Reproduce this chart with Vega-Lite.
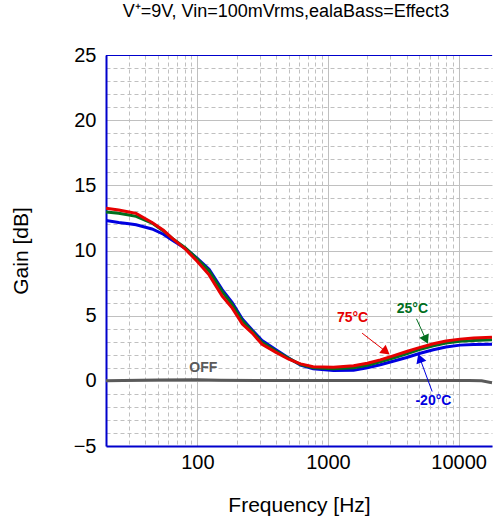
{
  "$schema": "https://vega.github.io/schema/vega-lite/v6.json",
  "autosize": {"type": "none"},
  "padding": {"left": 106, "top": 55, "right": 1, "bottom": 71},
  "width": 386,
  "height": 391,
  "background": "white",
  "config": {
    "font": "Liberation Sans",
    "view": {"stroke": null}
  },
  "title": {
    "text": "V⁺=9V, Vin=100mVrms,ealaBass=Effect3",
    "fontSize": 18,
    "fontWeight": "normal",
    "color": "#000000",
    "font": "Liberation Sans",
    "anchor": "middle",
    "dx": -13,
    "offset": 24
  },
  "datasets": {
    "curves": [
      {"f": 20, "gain": 0.0, "series": "OFF"},
      {"f": 50, "gain": 0.06, "series": "OFF"},
      {"f": 100, "gain": 0.08, "series": "OFF"},
      {"f": 150, "gain": 0.04, "series": "OFF"},
      {"f": 1000, "gain": 0.02, "series": "OFF"},
      {"f": 5000, "gain": 0.02, "series": "OFF"},
      {"f": 12000, "gain": 0.02, "series": "OFF"},
      {"f": 15000, "gain": 0.0, "series": "OFF"},
      {"f": 18000, "gain": -0.15, "series": "OFF"},

      {"f": 20, "gain": 12.3, "series": "-20"},
      {"f": 25, "gain": 12.15, "series": "-20"},
      {"f": 30, "gain": 12.05, "series": "-20"},
      {"f": 34, "gain": 11.97, "series": "-20"},
      {"f": 45, "gain": 11.65, "series": "-20"},
      {"f": 55, "gain": 11.25, "series": "-20"},
      {"f": 64, "gain": 10.8, "series": "-20"},
      {"f": 81, "gain": 10.15, "series": "-20"},
      {"f": 100, "gain": 9.4, "series": "-20"},
      {"f": 123, "gain": 8.57, "series": "-20"},
      {"f": 155, "gain": 7.0, "series": "-20"},
      {"f": 185, "gain": 6.0, "series": "-20"},
      {"f": 221, "gain": 4.75, "series": "-20"},
      {"f": 263, "gain": 3.9, "series": "-20"},
      {"f": 313, "gain": 3.1, "series": "-20"},
      {"f": 397, "gain": 2.4, "series": "-20"},
      {"f": 500, "gain": 1.75, "series": "-20"},
      {"f": 617, "gain": 1.2, "series": "-20"},
      {"f": 770, "gain": 0.92, "series": "-20"},
      {"f": 1100, "gain": 0.79, "series": "-20"},
      {"f": 1570, "gain": 0.82, "series": "-20"},
      {"f": 2000, "gain": 1.0, "series": "-20"},
      {"f": 2512, "gain": 1.23, "series": "-20"},
      {"f": 3150, "gain": 1.5, "series": "-20"},
      {"f": 4000, "gain": 1.79, "series": "-20"},
      {"f": 5000, "gain": 2.1, "series": "-20"},
      {"f": 6400, "gain": 2.38, "series": "-20"},
      {"f": 8000, "gain": 2.6, "series": "-20"},
      {"f": 10240, "gain": 2.74, "series": "-20"},
      {"f": 13000, "gain": 2.78, "series": "-20"},
      {"f": 18000, "gain": 2.8, "series": "-20"},

      {"f": 20, "gain": 12.95, "series": "25"},
      {"f": 25, "gain": 12.85, "series": "25"},
      {"f": 30, "gain": 12.72, "series": "25"},
      {"f": 34, "gain": 12.62, "series": "25"},
      {"f": 45, "gain": 12.1, "series": "25"},
      {"f": 55, "gain": 11.5, "series": "25"},
      {"f": 64, "gain": 10.95, "series": "25"},
      {"f": 81, "gain": 10.2, "series": "25"},
      {"f": 100, "gain": 9.35, "series": "25"},
      {"f": 123, "gain": 8.45, "series": "25"},
      {"f": 155, "gain": 6.85, "series": "25"},
      {"f": 185, "gain": 5.85, "series": "25"},
      {"f": 221, "gain": 4.6, "series": "25"},
      {"f": 263, "gain": 3.8, "series": "25"},
      {"f": 313, "gain": 2.95, "series": "25"},
      {"f": 397, "gain": 2.3, "series": "25"},
      {"f": 500, "gain": 1.72, "series": "25"},
      {"f": 617, "gain": 1.25, "series": "25"},
      {"f": 770, "gain": 1.0, "series": "25"},
      {"f": 1100, "gain": 0.92, "series": "25"},
      {"f": 1570, "gain": 1.0, "series": "25"},
      {"f": 2000, "gain": 1.2, "series": "25"},
      {"f": 2512, "gain": 1.46, "series": "25"},
      {"f": 3150, "gain": 1.75, "series": "25"},
      {"f": 4000, "gain": 2.07, "series": "25"},
      {"f": 5000, "gain": 2.4, "series": "25"},
      {"f": 6400, "gain": 2.69, "series": "25"},
      {"f": 8000, "gain": 2.9, "series": "25"},
      {"f": 10240, "gain": 3.04, "series": "25"},
      {"f": 13000, "gain": 3.1, "series": "25"},
      {"f": 18000, "gain": 3.15, "series": "25"},

      {"f": 20, "gain": 13.25, "series": "75"},
      {"f": 25, "gain": 13.1, "series": "75"},
      {"f": 30, "gain": 12.95, "series": "75"},
      {"f": 34, "gain": 12.85, "series": "75"},
      {"f": 45, "gain": 12.15, "series": "75"},
      {"f": 55, "gain": 11.55, "series": "75"},
      {"f": 64, "gain": 10.95, "series": "75"},
      {"f": 81, "gain": 10.1, "series": "75"},
      {"f": 100, "gain": 9.16, "series": "75"},
      {"f": 123, "gain": 8.13, "series": "75"},
      {"f": 155, "gain": 6.5, "series": "75"},
      {"f": 185, "gain": 5.58, "series": "75"},
      {"f": 221, "gain": 4.35, "series": "75"},
      {"f": 263, "gain": 3.66, "series": "75"},
      {"f": 313, "gain": 2.8, "series": "75"},
      {"f": 397, "gain": 2.2, "series": "75"},
      {"f": 500, "gain": 1.66, "series": "75"},
      {"f": 617, "gain": 1.3, "series": "75"},
      {"f": 770, "gain": 1.08, "series": "75"},
      {"f": 1100, "gain": 1.05, "series": "75"},
      {"f": 1570, "gain": 1.15, "series": "75"},
      {"f": 2000, "gain": 1.35, "series": "75"},
      {"f": 2512, "gain": 1.61, "series": "75"},
      {"f": 3150, "gain": 1.92, "series": "75"},
      {"f": 4000, "gain": 2.25, "series": "75"},
      {"f": 5000, "gain": 2.55, "series": "75"},
      {"f": 6400, "gain": 2.84, "series": "75"},
      {"f": 8000, "gain": 3.05, "series": "75"},
      {"f": 10240, "gain": 3.2, "series": "75"},
      {"f": 13000, "gain": 3.28, "series": "75"},
      {"f": 18000, "gain": 3.35, "series": "75"}
    ],
    "labels": [
      {"f": 111, "gain": 0.96, "text": "OFF", "series": "OFF"},
      {"f": 1541, "gain": 4.8, "text": "75°C", "series": "75"},
      {"f": 4426, "gain": 5.53, "text": "25°C", "series": "25"},
      {"f": 6412, "gain": -1.53, "text": "-20°C", "series": "-20"}
    ],
    "arrows": [
      {"f": 1824, "gain": 3.66, "f2": 2723, "gain2": 2.31, "series": "75"},
      {"f": 4753, "gain": 4.76, "f2": 5560, "gain2": 3.26, "series": "25"},
      {"f": 6267, "gain": -0.82, "f2": 5093, "gain2": 1.63, "series": "-20"}
    ],
    "heads": [
      {"f": 2723, "gain": 2.31, "series": "75"},
      {"f": 5560, "gain": 3.26, "series": "25"},
      {"f": 5093, "gain": 1.63, "series": "-20"}
    ],
    "frame": [
      {"f": 20, "f2": 18000, "gain": 25}
    ]
  },
  "encoding": {
    "x": {
      "field": "f",
      "type": "quantitative",
      "scale": {"type": "log", "domain": [20, 18000], "nice": false},
      "axis": {
        "title": "Frequency [Hz]",
        "titleFontSize": 21,
        "titleFontWeight": "normal",
        "titleColor": "#000000",
        "titlePadding": 22,
        "values": [20, 30, 40, 50, 60, 70, 80, 90, 100, 200, 300, 400, 500, 600, 700, 800, 900, 1000, 2000, 3000, 4000, 5000, 6000, 7000, 8000, 9000, 10000],
        "format": "d",
        "labelExpr": "(datum.value == 100 || datum.value == 1000 || datum.value == 10000) ? datum.label : ''",
        "labelOverlap": false,
        "labelFontSize": 20,
        "labelColor": "#000000",
        "labelPadding": 6,
        "labelFlush": false,
        "ticks": false,
        "domainColor": "#0000cc",
        "domainWidth": 2,
        "grid": true,
        "gridColor": "#c0c0c0",
        "gridDash": {"condition": {"test": "datum.value == 100 || datum.value == 1000 || datum.value == 10000", "value": []}, "value": [4, 3]}
      }
    },
    "y": {
      "field": "gain",
      "type": "quantitative",
      "scale": {"domain": [-5, 25], "nice": false},
      "axis": {
        "title": "Gain [dB]",
        "titleFontSize": 21,
        "titleFontWeight": "normal",
        "titleColor": "#000000",
        "titlePadding": 42,
        "values": [-5, -4, -3, -2, -1, 0, 1, 2, 3, 4, 5, 6, 7, 8, 9, 10, 11, 12, 13, 14, 15, 16, 17, 18, 19, 20, 21, 22, 23, 24, 25],
        "labelExpr": "(datum.value == -5 || datum.value == 0 || datum.value == 5 || datum.value == 10 || datum.value == 15 || datum.value == 20 || datum.value == 25) ? datum.label : ''",
        "labelOverlap": false,
        "labelFontSize": 20,
        "labelColor": "#000000",
        "labelPadding": 10,
        "labelFlush": false,
        "ticks": false,
        "domainColor": "#0000cc",
        "domainWidth": 2,
        "grid": true,
        "gridColor": "#c0c0c0",
        "gridDash": {"condition": {"test": "datum.value == -5 || datum.value == 0 || datum.value == 5 || datum.value == 10 || datum.value == 15 || datum.value == 20 || datum.value == 25", "value": []}, "value": [4, 3]}
      }
    }
  },
  "layer": [
    {
      "data": {"name": "curves"},
      "mark": {"type": "line", "strokeWidth": 3, "clip": true},
      "encoding": {
        "color": {
          "field": "series",
          "type": "nominal",
          "scale": {"domain": ["OFF", "-20", "25", "75"], "range": ["#5a5a5a", "#0000e0", "#006e1e", "#e60000"]},
          "legend": null
        },
        "strokeWidth": {
          "condition": {"test": "datum.series == 'OFF'", "value": 2.5},
          "value": 3
        }
      }
    },
    {
      "data": {"name": "arrows"},
      "mark": {"type": "rule", "strokeWidth": 1},
      "encoding": {
        "x2": {"field": "f2"},
        "y2": {"field": "gain2"},
        "color": {"field": "series", "type": "nominal", "legend": null}
      }
    },
    {
      "data": {"name": "heads"},
      "transform": [{"filter": "datum.series == '75'"}],
      "mark": {"type": "point", "shape": "triangle", "filled": true, "size": 110, "angle": 128, "opacity": 1},
      "encoding": {
        "color": {"field": "series", "type": "nominal", "legend": null}
      }
    },
    {
      "data": {"name": "heads"},
      "transform": [{"filter": "datum.series == '25'"}],
      "mark": {"type": "point", "shape": "triangle", "filled": true, "size": 110, "angle": 155, "opacity": 1},
      "encoding": {
        "color": {"field": "series", "type": "nominal", "legend": null}
      }
    },
    {
      "data": {"name": "heads"},
      "transform": [{"filter": "datum.series == '-20'"}],
      "mark": {"type": "point", "shape": "triangle", "filled": true, "size": 110, "angle": -20, "opacity": 1},
      "encoding": {
        "color": {"field": "series", "type": "nominal", "legend": null}
      }
    },
    {
      "data": {"name": "labels"},
      "mark": {"type": "text", "fontSize": 14, "fontWeight": "bold", "font": "Liberation Sans", "align": "center", "baseline": "middle"},
      "encoding": {
        "text": {"field": "text"},
        "color": {"field": "series", "type": "nominal", "legend": null}
      }
    },
    {
      "data": {"name": "frame"},
      "mark": {"type": "rule", "color": "#0000cc", "strokeWidth": 2, "clip": true},
      "encoding": {
        "x2": {"field": "f2"}
      }
    }
  ]
}
